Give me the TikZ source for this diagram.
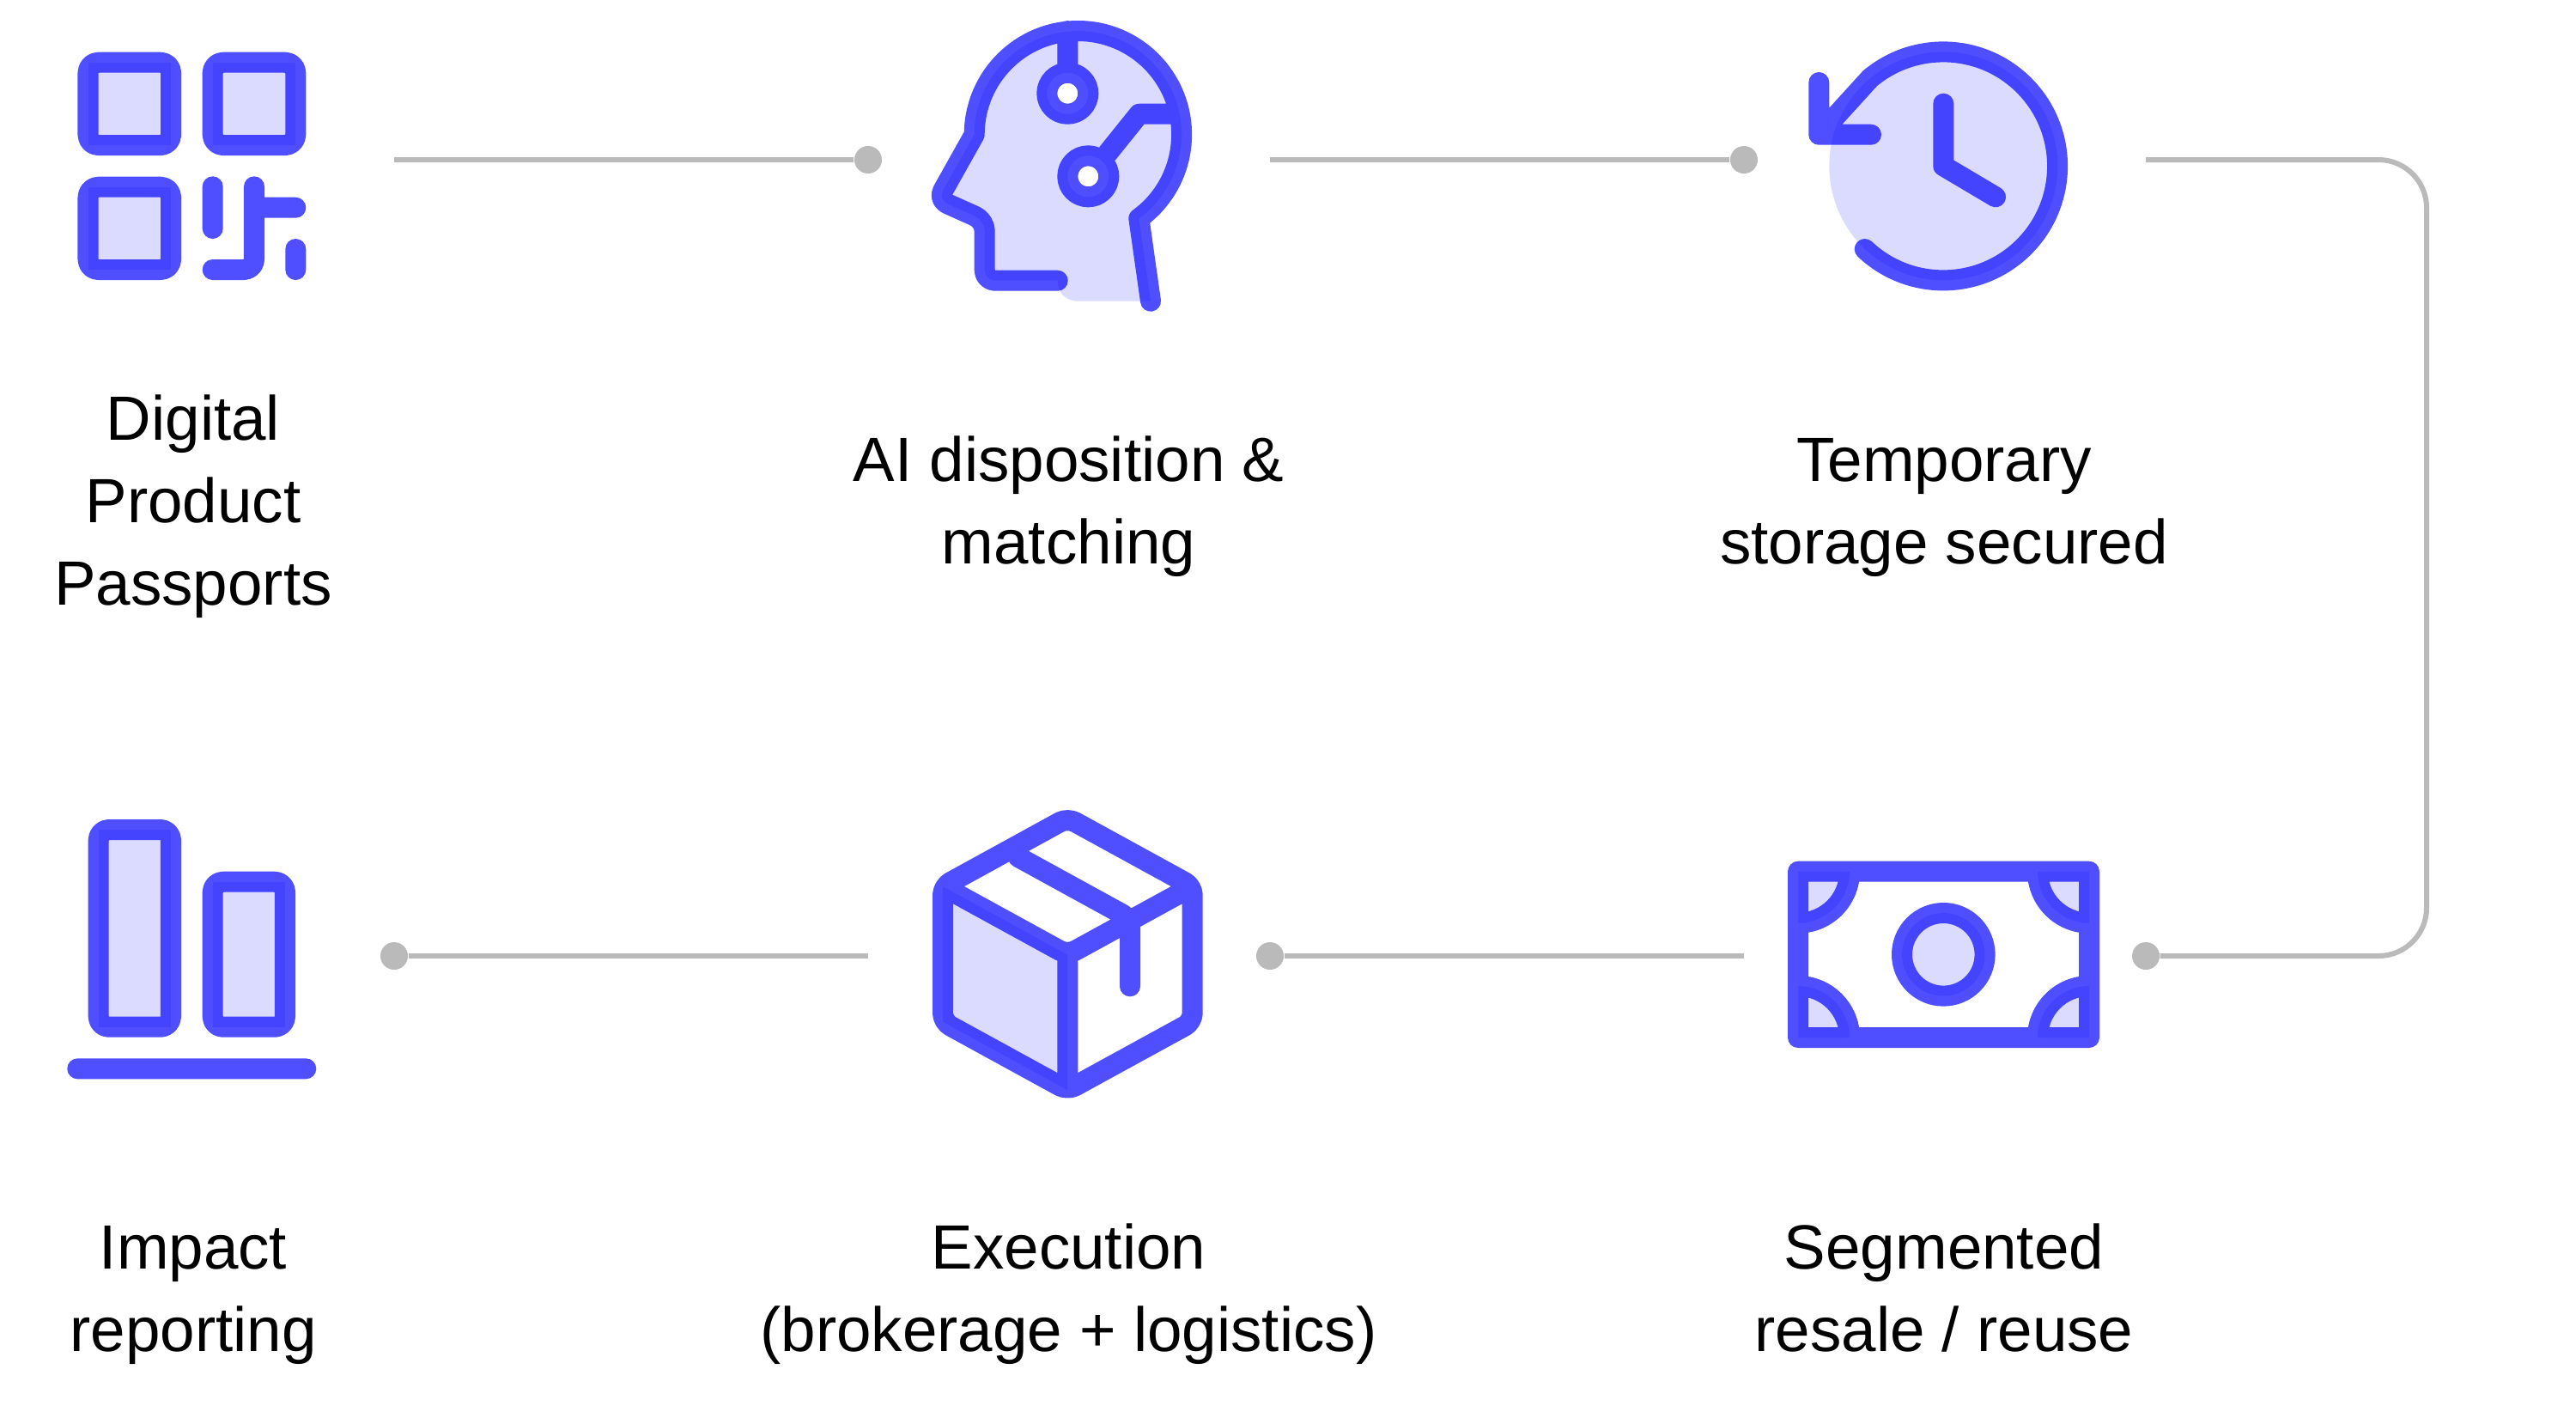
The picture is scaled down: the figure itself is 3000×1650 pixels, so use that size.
\documentclass[tikz,border=0pt]{standalone}
\usepackage{fontspec}
\setmainfont{Liberation Sans}
\definecolor{iconblue}{HTML}{0000FF}
\definecolor{linkgray}{HTML}{BABABA}
\tikzset{
	iconline/.style={draw=iconblue,draw opacity=.69,line width=.24cm,line cap=round,line join=round},
	iconfill/.style={fill=iconblue,fill opacity=.14},
	linkline/.style={draw=linkgray,line width=.06cm},
	linkdot/.style={circle,fill=linkgray,inner sep=0pt,minimum size=.32cm},
	steplabel/.style={align=center,inner sep=0pt,anchor=base,font=\fontsize{20.7}{27.3}\selectfont}
}
\begin{document}
\begin{tikzpicture}[x=.01cm,y=-.01cm]
	\useasboundingbox (0,0) rectangle (3000,1650);
	%Connectors between the steps
	\coordinate (qrout) at (459,186);
	\coordinate (aiout) at (1479,186);
	\coordinate (clockout) at (2499,186);
	\coordinate (moneyout) at (2031,1113);
	\coordinate (boxout) at (1011,1113);
	\coordinate (cornerA) at (2826,186);
	\coordinate (cornerB) at (2826,1113);
	\node[linkdot] (aidot) at (1011,186) {};
	\node[linkdot] (clockdot) at (2031,186) {};
	\node[linkdot] (moneydot) at (2499,1113) {};
	\node[linkdot] (boxdot) at (1479,1113) {};
	\node[linkdot] (barsdot) at (459,1113) {};
	\draw[linkline] (qrout)--(aidot);
	\draw[linkline] (aiout)--(clockdot);
	\draw[linkline,rounded corners=.56cm] (clockout)--(cornerA)--(cornerB)--(moneydot);
	\draw[linkline] (moneyout)--(boxdot);
	\draw[linkline] (boxout)--(barsdot);
	%Icon of the code squares
	\foreach \x/\y in {102.5/72.7,247.7/72.7,102.5/217.7}
	\fill[iconfill] (\x,\y) rectangle (\x+96.6,\y+96.3);
	\draw[iconline,rounded corners=.12cm]
		\foreach \x/\y in {102.5/72.7,247.7/72.7,102.5/217.7} {(\x,\y) rectangle (\x+96.6,\y+96.3)}
		(247.7,217.3)--(247.7,266)
		(296,217.3)--(296,314)--(247.7,314)
		(296,241.7)--(344.3,241.7)
		(344.3,290)--(344.3,314);
	%Icon of the head
	\fill[iconfill,even odd rule] (1231.7,326.7)[rounded corners=.12cm]--(1146.7,326.7)--(1146.7,256.7)--(1092.3,232.3)[sharp corners]--(1134.7,156.7)
		arc (180:414:120.7)--(1340,350.7)--(1256.7,350.7)..controls (1240,350.7) and (1231.7,340) ..(1231.7,326.7)
		(1243.3,108.7) circle (24) (1267.3,205.3) circle (24);
	\draw[iconline] (1231.7,326.7)[rounded corners=.12cm]--(1146.7,326.7)--(1146.7,256.7)--(1092.3,232.3)[sharp corners]--(1134.7,156.7)
		arc (180:414:120.7)--(1340,350.7)
		(1243.3,36)--(1243.3,84.7)
		(1243.3,108.7) circle (24)
		(1267.3,205.3) circle (24)
		(1290,178.3)--(1326.7,132.7)--(1371.7,132.7);
	%Icon of the clock
	\fill[iconfill] (2263.3,193.3) circle (133);
	\draw[iconline] (2171.7,290) arc (133.4:-130:133)--(2118.3,156.7)
		(2118.3,96)--(2118.3,156.7)--(2179,156.7)
		(2263.3,120.7)--(2263.3,193.3)--(2324,229.3);
	%Icon of the bank note
	\fill[iconfill] (2263.3,1111.3) circle (48.3);
	\fill[iconfill] (2154,1014.7) arc (0:90:60)--(2094,1014.7)--cycle;
	\fill[iconfill] (2373,1014.7) arc (180:90:60)--(2433,1014.7)--cycle;
	\fill[iconfill] (2154,1208) arc (0:-90:60)--(2094,1208)--cycle;
	\fill[iconfill] (2373,1208) arc (180:270:60)--(2433,1208)--cycle;
	\draw[iconline] (2094,1014.7) rectangle (2433,1208)
		(2263.3,1111.3) circle (48.3)
		(2154,1014.7) arc (0:90:60)
		(2373,1014.7) arc (180:90:60)
		(2154,1208) arc (0:-90:60)
		(2373,1208) arc (180:270:60);
	%Icon of the parcel
	\fill[iconfill] (1098,1032)--(1243.3,1111.7)--(1243.3,1269.3)--(1098,1189.7)--cycle;
	\draw[iconline,rounded corners=.1cm] (1243.3,952.3)--(1388.7,1032)--(1388.7,1189.7)--(1243.3,1269.3)--(1098,1189.7)--(1098,1032)--cycle
		(1108,1037.5)--(1243.3,1111.7)--(1378.7,1037.5)
		(1243.3,1111.7)--(1243.3,1258)
		(1186,998)--(1316,1069.3)--(1316,1148.3);
	%Icon of the bars
	\fill[iconfill] (114.7,966) rectangle (199,1195.7);
	\fill[iconfill] (247.7,1026.7) rectangle (332,1195.7);
	\draw[iconline,rounded corners=.12cm] (114.7,966) rectangle (199,1195.7)
		(247.7,1026.7) rectangle (332,1195.7)
		(90.3,1244.3)--(356.3,1244.3);
	%Labels
	\node[steplabel] (qrlabel) at (225,704.7) {Digital\\Product\\Passports};
	\node[steplabel] (ailabel) at (1244.5,656.7) {AI disposition \&\\matching};
	\node[steplabel] (clocklabel) at (2264,656.7) {Temporary\\storage secured};
	\node[steplabel] (barslabel) at (225,1573) {Impact\\reporting};
	\node[steplabel] (boxlabel) at (1244.5,1573) {Execution\\(brokerage + logistics)};
	\node[steplabel] (moneylabel) at (2264,1573) {Segmented\\resale / reuse};
\end{tikzpicture}
\end{document}
